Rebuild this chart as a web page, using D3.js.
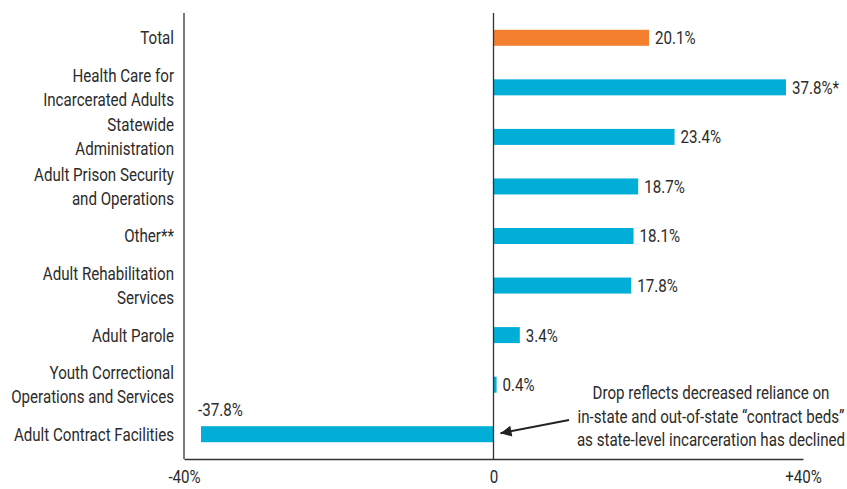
<!DOCTYPE html>
<html><head><meta charset="utf-8">
<script src="https://cdn.jsdelivr.net/npm/d3@7"></script>
<style>
body{margin:0;background:#fff;}
text{font-family:Roboto,"Noto Sans",sans-serif;fill:#2b2b2b;}
</style></head>
<body><svg id="c" width="847" height="489"></svg>
<script>
const categories = [
  ["Total"],
  ["Health Care for","Incarcerated Adults"],
  ["Statewide","Administration"],
  ["Adult Prison Security","and Operations"],
  ["Other**"],
  ["Adult Rehabilitation","Services"],
  ["Adult Parole"],
  ["Youth Correctional","Operations and Services"],
  ["Adult Contract Facilities"]
];
const values = [20.1, 37.8, 23.4, 18.7, 18.1, 17.8, 3.4, 0.4, -37.8];
const valueLabels = ["20.1%","37.8%*","23.4%","18.7%","18.1%","17.8%","3.4%","0.4%","-37.8%"];
const tickValues = [-40, 0, 40];
const tickLabels = ["-40%","0","+40%"];
const annotation = ["Drop reflects decreased reliance on","in-state and out-of-state \u201Ccontract beds\u201D","as state-level incarceration has declined"];

const svg = d3.select("#c");
const x = d3.scaleLinear().domain([-40,40]).range([184,803]);
const y = d3.scaleBand().domain(d3.range(categories.length)).range([13,459]).paddingInner(0.677).paddingOuter(0.3385);
const FS = 18.5;

// horizontal condensing factor (reference uses a condensed face)
const probe = svg.append("text").style("font-size",FS+"px").text("Incarcerated Adults");
const SX = 131 / probe.node().getComputedTextLength();
probe.remove();

// bars
svg.selectAll("rect.bar").data(values).join("rect")
  .attr("x", d => x(Math.min(0,d)))
  .attr("width", d => Math.abs(x(d)-x(0)))
  .attr("y", (d,i) => y(i))
  .attr("height", y.bandwidth())
  .attr("fill", (d,i) => i===0 ? "#F47F2F" : "#00AED8");

// axes lines
const axisColor = "#333";
svg.append("line").attr("x1",x(-40)).attr("x2",x(-40)).attr("y1",13).attr("y2",459).attr("stroke",axisColor).attr("stroke-width",1.3);
svg.append("line").attr("x1",x(0)).attr("x2",x(0)).attr("y1",13).attr("y2",459).attr("stroke",axisColor).attr("stroke-width",1.3);

const axis = d3.axisBottom(x).tickValues(tickValues).tickSize(0).tickPadding(11)
  .tickFormat((d,i) => tickLabels[i]);
const gx = svg.append("g").attr("transform","translate(0,459)").call(axis);
gx.select(".domain").attr("stroke",axisColor).attr("stroke-width",1.3);
gx.selectAll("text").style("font-size",FS+"px").attr("fill","#2b2b2b")
  .style("font-family",'Roboto,"Noto Sans",sans-serif')
  .attr("transform",`scale(${SX},1)`);

// category labels
const cl = svg.selectAll("text.cat").data(categories).join("text")
  .attr("class","cat").attr("text-anchor","end").style("font-size",FS+"px")
  .attr("transform",(d,i)=>`translate(174,${y(i)+y.bandwidth()/2}) scale(${SX},1)`);
cl.each(function(lines){
  const t = d3.select(this);
  const n = lines.length;
  lines.forEach((l,j)=>{
    t.append("tspan").attr("x",0).attr("y",(j-(n-1)/2)*24).attr("dy","0.35em").text(l);
  });
});

// value labels
svg.selectAll("text.val").data(values).join("text")
  .attr("class","val").style("font-size",FS+"px")
  .attr("transform",(d,i) => d>=0
      ? `translate(${x(d)+6},${y(i)+y.bandwidth()/2}) scale(${SX},1)`
      : `translate(${x(d)-3},${y(i)-10}) scale(${SX},1)`)
  .attr("dy",d => d>=0 ? "0.35em" : "0")
  .text((d,i)=>valueLabels[i]);

// annotation
const at = svg.append("text").attr("text-anchor","middle").style("font-size",FS+"px")
  .attr("transform",`translate(711,393) scale(${SX},1)`);
annotation.forEach((l,j)=>at.append("tspan").attr("x",0).attr("y",j*23.5).attr("dy","0.35em").text(l));

svg.append("defs").append("marker").attr("id","ah").attr("viewBox","0 0 10 10")
  .attr("refX",10).attr("refY",5).attr("markerWidth",20).attr("markerHeight",11).attr("orient","auto")
  .attr("markerUnits","userSpaceOnUse")
  .append("path").attr("d","M0,0L10,5L0,10z").attr("fill","#222");
const lastI = values.length-1;
svg.append("line").attr("x1",569).attr("y1",420).attr("x2",x(0)+7).attr("y2",y(lastI)+y.bandwidth()/2-1)
  .attr("stroke","#222").attr("stroke-width",2).attr("marker-end","url(#ah)");
</script></body></html>
